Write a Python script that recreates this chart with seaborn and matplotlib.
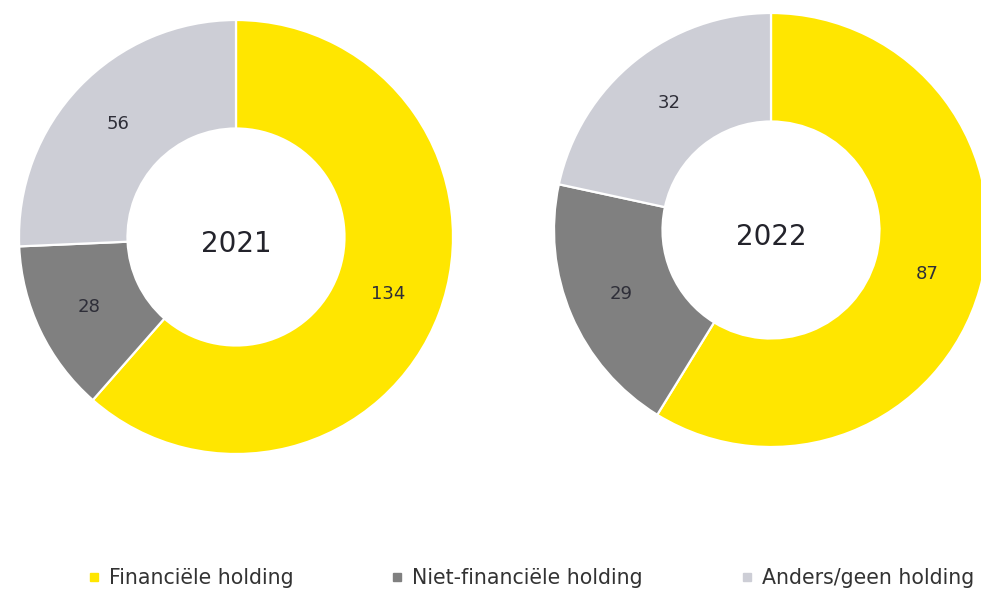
import matplotlib
matplotlib.use("Agg")
import matplotlib.pyplot as plt
from matplotlib.lines import Line2D
import seaborn as sns

# Holding structure counts per year
categories = ["Financiële holding", "Niet-financiële holding", "Anders/geen holding"]
years = ["2021", "2022"]
values_2021 = [134, 28, 56]
values_2022 = [87, 29, 32]

sns.set_theme(style="white")
plt.rcParams["font.family"] = ["DejaVu Sans"]

palette = sns.color_palette(["#FFE600", "#808080", "#CDCED6"])
text_color = "#2E2E38"

W, H = 981, 591
fig = plt.figure(figsize=(W / 100, H / 100), dpi=100)
fig.patch.set_facecolor("white")

R = 217  # outer radius in pixels


def donut(cx, cy, vals, year):
    ax = fig.add_axes([(cx - R) / W, (H - cy - R) / H, 2 * R / W, 2 * R / H])
    total = sum(vals)
    ax.pie(
        vals,
        colors=palette,
        startangle=90,
        counterclock=False,
        radius=1,
        wedgeprops=dict(width=0.5, edgecolor="white", linewidth=1.6),
        autopct=lambda p: f"{round(p * total / 100):d}",
        pctdistance=0.75,
        textprops=dict(fontsize=13, color=text_color),
    )
    ax.text(0, -0.03, year, ha="center", va="center", fontsize=20, color="#23232B")
    ax.set_xlim(-1, 1)
    ax.set_ylim(-1, 1)
    ax.set_aspect("equal")
    ax.axis("off")


donut(236, 237, values_2021, years[0])
donut(771, 230, values_2022, years[1])

handles = [
    Line2D([0], [0], marker="s", linestyle="none", markersize=5.5,
           markerfacecolor=c, markeredgecolor=c)
    for c in palette
]
fig.legend(
    handles, categories,
    loc="center left",
    bbox_to_anchor=(89 / W, 1 - 578 / H),
    ncol=3,
    frameon=False,
    fontsize=14.8,
    labelcolor="#333333",
    handlelength=0.45,
    handletextpad=0.5,
    columnspacing=4.85,
    borderpad=0,
    borderaxespad=0,
)

fig.savefig("out.png", dpi=100, facecolor="white")
